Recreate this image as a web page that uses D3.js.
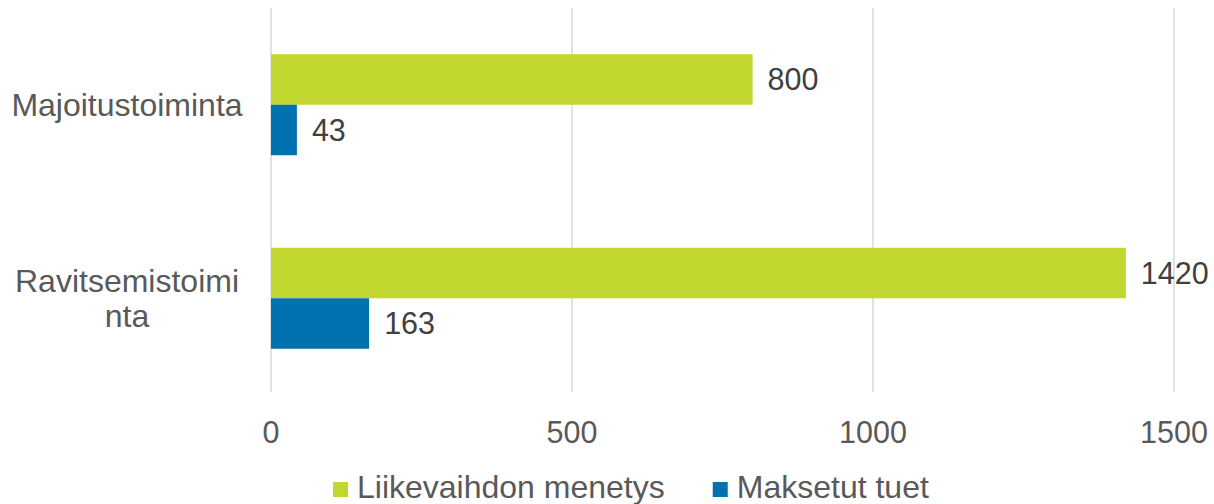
<!DOCTYPE html>
<html>
<head>
<meta charset="utf-8">
<script src="https://cdn.jsdelivr.net/npm/d3@7"></script>
<style>
  body { margin: 0; background: #fff; }
  text { font-family: "Liberation Sans", Arial, sans-serif; }
</style>
</head>
<body>
<div id="chart"></div>
<script>
const categories = ["Majoitustoiminta", "Ravitsemistoiminta"];
const seriesNames = ["Liikevaihdon menetys", "Maksetut tuet"];
const lossValues = [800, 1420];
const supportValues = [43, 163];
const xTicks = [0, 500, 1000, 1500];
const colors = ["#c1d72f", "#0072af"];

const width = 1214, height = 504;
const margin = { top: 8, right: 40, bottom: 111, left: 271 };

const rows = categories.map((c, i) => ({
  cat: c,
  vals: [lossValues[i], supportValues[i]]
}));

const svg = d3.select("#chart")
  .append("svg")
  .attr("width", width)
  .attr("height", height);

const x = d3.scaleLinear()
  .domain([0, 1500])
  .range([margin.left, 1174]);

const y = d3.scaleBand()
  .domain(categories)
  .range([margin.top, height - margin.bottom + 2]);

const barH = 50.5;

// gridlines
svg.append("g")
  .selectAll("line")
  .data(xTicks)
  .join("line")
  .attr("x1", d => x(d))
  .attr("x2", d => x(d))
  .attr("y1", margin.top)
  .attr("y2", height - margin.bottom - 1)
  .attr("stroke", "#d9d9d9")
  .attr("stroke-width", 1.5);

// tick labels
svg.append("g")
  .selectAll("text")
  .data(xTicks)
  .join("text")
  .attr("x", d => x(d))
  .attr("y", 443)
  .attr("text-anchor", "middle")
  .attr("font-size", 30.5)
  .attr("fill", "#595959")
  .text(d => d);

// bars
const groups = svg.append("g")
  .selectAll("g")
  .data(rows)
  .join("g")
  .attr("transform", d => `translate(0,${y(d.cat) + y.bandwidth() / 2 - barH})`);

groups.selectAll("rect")
  .data(d => d.vals)
  .join("rect")
  .attr("x", x(0))
  .attr("y", (d, i) => i * barH)
  .attr("width", d => x(d) - x(0))
  .attr("height", barH)
  .attr("fill", (d, i) => colors[i]);

groups.selectAll("text")
  .data(d => d.vals)
  .join("text")
  .attr("x", d => x(d) + 15)
  .attr("y", (d, i) => i * barH + barH / 2)
  .attr("dy", "0.36em")
  .attr("font-size", 30.5)
  .attr("fill", "#404040")
  .text(d => d);

// category labels, wrapped like Excel (breaks inside long words)
const maxW = 236;
const labelX = 127;
const lineH = 35;

svg.append("g")
  .selectAll("text")
  .data(categories)
  .join("text")
  .attr("text-anchor", "middle")
  .attr("font-size", 32)
  .attr("fill", "#595959")
  .each(function (d) {
    const t = d3.select(this);
    const probe = t.append("tspan").text("");
    const lines = [];
    let cur = "";
    for (const ch of d) {
      probe.text(cur + ch);
      if (probe.node().getComputedTextLength() > maxW && cur.length) {
        lines.push(cur);
        cur = ch;
      } else {
        cur += ch;
      }
    }
    lines.push(cur);
    probe.remove();
    const cy = y(d) + y.bandwidth() / 2;
    const first = cy - (lines.length - 1) * lineH / 2;
    lines.forEach((ln, i) => {
      t.append("tspan")
        .attr("x", labelX)
        .attr("y", first + i * lineH)
        .attr("dy", "0.35em")
        .text(ln);
    });
  });

// legend
const legend = svg.append("g").attr("transform", "translate(333,498)");
let lx = 0;
seriesNames.forEach((name, i) => {
  legend.append("rect")
    .attr("x", lx)
    .attr("y", -16)
    .attr("width", 15)
    .attr("height", 15)
    .attr("fill", colors[i]);
  const txt = legend.append("text")
    .attr("x", lx + 24)
    .attr("y", 0)
    .attr("font-size", 32)
    .attr("fill", "#595959")
    .text(name);
  lx += 24 + txt.node().getComputedTextLength() + 48;
});
</script>
</body>
</html>
